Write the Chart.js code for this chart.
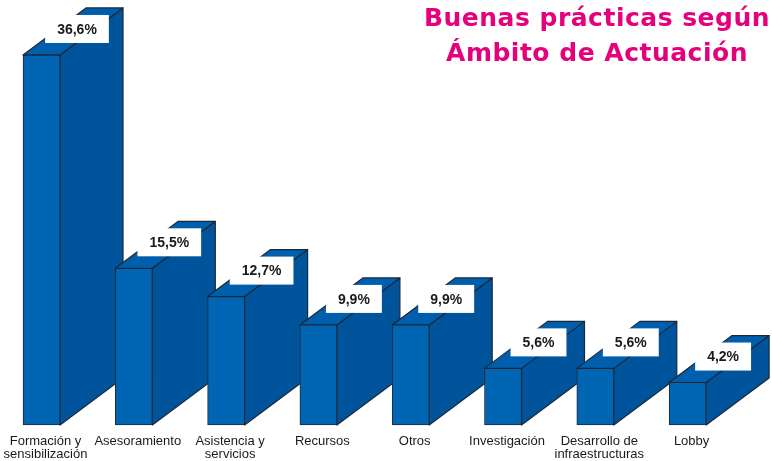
<!DOCTYPE html>
<html>
<head>
<meta charset="utf-8">
<script src="https://cdn.jsdelivr.net/npm/chart.js@4/dist/chart.umd.min.js"></script>
<style>
html,body{margin:0;padding:0;background:#fff;}
#wrap{width:772px;height:461px;position:relative;}
</style>
</head>
<body>
<div id="wrap"><canvas id="c" width="772" height="461"></canvas></div>
<script>
// ---- data ----
const categories = [
  ["Formación y", "sensibilización"],
  "Asesoramiento",
  ["Asistencia y", "servicios"],
  "Recursos",
  "Otros",
  "Investigación",
  ["Desarrollo de", "infraestructuras"],
  "Lobby"
];
const values = [36.6, 15.5, 12.7, 9.9, 9.9, 5.6, 5.6, 4.2];
const titleLines = ["Buenas prácticas según", "Ámbito de Actuación"];

// ---- style ----
const FRONT = "#0065B3";
const TOP = "#005FAC";
const SIDE = "#00549B";
const EDGE = "#1b2838";
const DX = 63, DY = 47;

function fmt(v) { return v.toFixed(1).replace(".", ",") + "%"; }

const box3d = {
  id: "box3d",
  beforeDatasetsDraw(chart) {
    const ctx = chart.ctx;
    const meta = chart.getDatasetMeta(0);
    meta.data.forEach((bar) => {
      const p = bar.getProps(["x", "y", "base", "width"], true);
      const l = p.x - p.width / 2, r = p.x + p.width / 2, t = p.y, b = p.base;
      ctx.save();
      ctx.lineWidth = 1.2;
      ctx.strokeStyle = EDGE;
      ctx.lineJoin = "round";
      ctx.beginPath();
      ctx.moveTo(r, t); ctx.lineTo(r + DX, t - DY); ctx.lineTo(r + DX, b - DY); ctx.lineTo(r, b); ctx.closePath();
      ctx.fillStyle = SIDE; ctx.fill(); ctx.stroke();
      ctx.beginPath();
      ctx.moveTo(l, t); ctx.lineTo(l + DX, t - DY); ctx.lineTo(r + DX, t - DY); ctx.lineTo(r, t); ctx.closePath();
      ctx.fillStyle = TOP; ctx.fill(); ctx.stroke();
      ctx.restore();
    });
  },
  afterDatasetsDraw(chart) {
    const ctx = chart.ctx;
    const meta = chart.getDatasetMeta(0);
    meta.data.forEach((bar, i) => {
      const p = bar.getProps(["x", "y", "base", "width"], true);
      const txt = fmt(values[i]);
      ctx.save();
      ctx.font = "bold 14px 'Liberation Sans', Arial, sans-serif";
      const w = ctx.measureText(txt).width + 24;
      const cx = p.x + 35.5;
      const top = p.y - 40;
      ctx.fillStyle = "#ffffff";
      ctx.fillRect(cx - w / 2, top, w, 28);
      ctx.fillStyle = "#1a1a1a";
      ctx.textAlign = "center";
      ctx.textBaseline = "middle";
      ctx.fillText(txt, cx, top + 15);
      ctx.restore();
    });
  },
  afterDraw(chart) {
    const ctx = chart.ctx;
    ctx.save();
    ctx.fillStyle = "#E5007D";
    ctx.font = "bold 25px 'DejaVu Sans', sans-serif";
    if ('letterSpacing' in ctx) ctx.letterSpacing = "0.5px";
    ctx.textAlign = "center";
    ctx.textBaseline = "alphabetic";
    ctx.fillText(titleLines[0], 597, 26);
    ctx.fillText(titleLines[1], 597, 61);
    ctx.restore();
  }
};

new Chart(document.getElementById("c"), {
  type: "bar",
  data: {
    labels: categories,
    datasets: [{
      data: values,
      backgroundColor: FRONT,
      borderColor: EDGE,
      borderWidth: 1,
      borderSkipped: false,
      barThickness: 37,
      clip: false
    }]
  },
  options: {
    responsive: false,
    animation: false,
    layout: { padding: { left: 41.5, right: 84.4, top: 20.6, bottom: 0 } },
    plugins: { legend: { display: false }, tooltip: { enabled: false } },
    scales: {
      x: {
        type: "category",
        offset: false,
        grid: { display: false },
        border: { display: false },
        ticks: {
          color: "#1a1a1a",
          font: { family: "'Liberation Sans', Arial, sans-serif", size: 13, lineHeight: 1.0 },
          padding: 2,
          labelOffset: 4,
          maxRotation: 0,
          autoSkip: false
        },
        afterFit(scale) { scale.height = 36; scale.paddingLeft = 0; scale.paddingRight = 0; }
      },
      y: {
        display: false,
        min: 0,
        max: 40
      }
    }
  },
  plugins: [box3d]
});
</script>
</body>
</html>
